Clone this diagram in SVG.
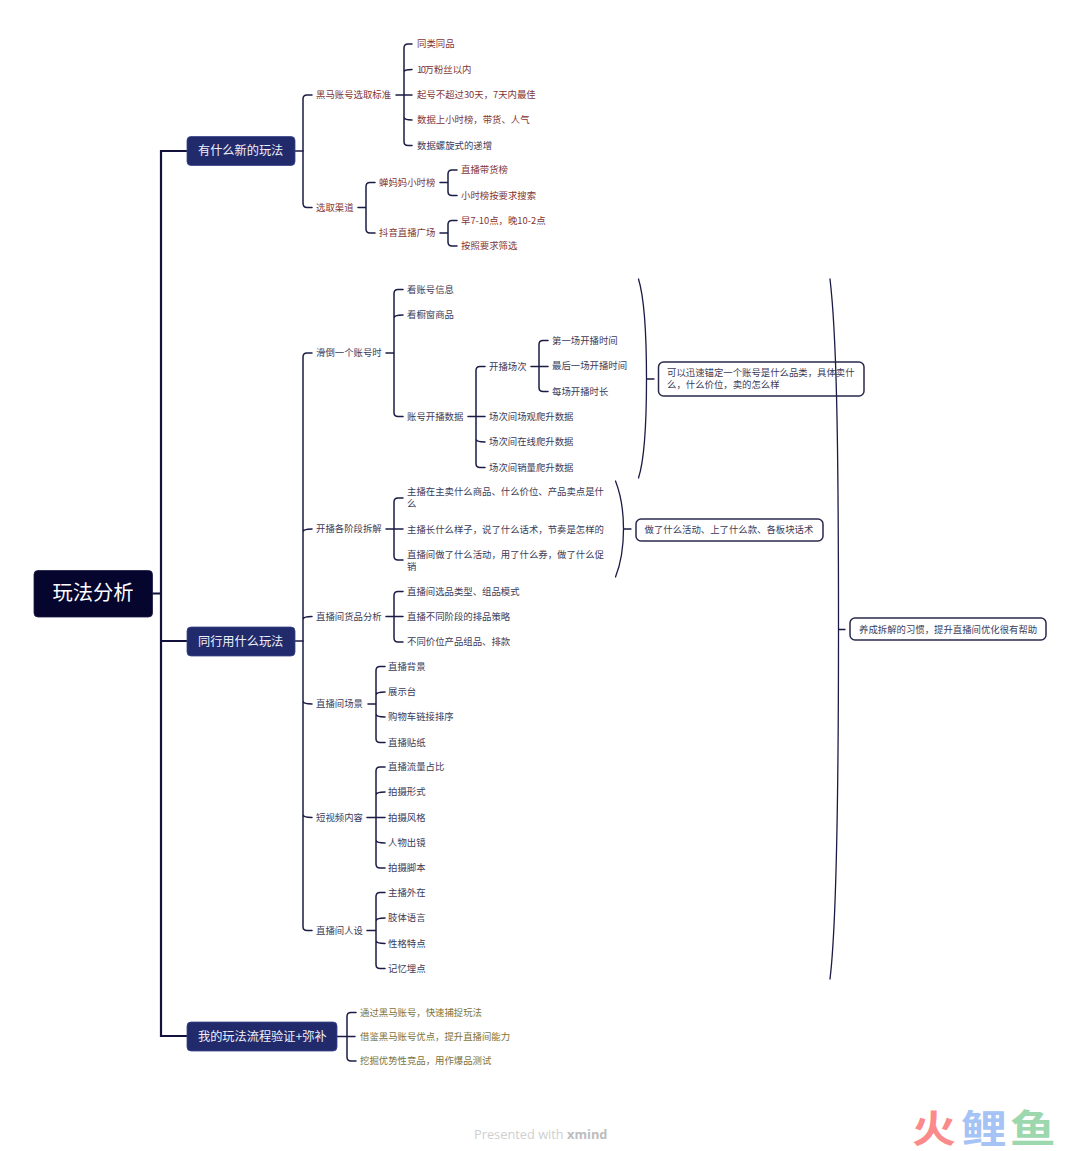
<svg xmlns="http://www.w3.org/2000/svg" width="1080" height="1151" viewBox="0 0 1080 1151">
<style>
text{font-family:"Noto Sans CJK SC","Noto Sans",sans-serif;font-size:9.4px;dominant-baseline:central;fill:#3b3b58;transform:translateY(-1px)}
.r{fill:#7f3535}
.o{fill:#7d7338}
.m{fill:#eef0fa;font-size:12.2px}
.t{fill:#fff;font-size:20.3px;transform:translateY(-2.5px)}
.c{fill:none;stroke:#1b1b45;stroke-width:1.5;stroke-linecap:round}
.c1{fill:none;stroke:#12123c;stroke-width:2.2}
.b{fill:none;stroke:#1b1b45;stroke-width:1.3;stroke-linecap:round}
.nb{fill:#fff;stroke:#2a2a4e;stroke-width:1.5}
.mb{fill:#212a6b;stroke:#3a4488;stroke-width:.8}
.w{font-family:"Liberation Sans","Noto Sans CJK SC",sans-serif;font-size:38px;font-weight:700;dominant-baseline:alphabetic;transform:none}
</style>
<rect width="1080" height="1151" fill="#fff"/>
<g id="connectors">
<path class="c1" d="M152 593.500H161M187 151H161V1036H187M161 641H187"/>
<path class="c" d="M295 151H303M295 641H303"/>
<path class="c" d="M312 95H307Q303 95 303 99V203Q303 207.500 307 207.500H312"/>
<path class="c" d="M396 95H412M412 44H408Q404 44 404 48V141.500Q404 145.500 408 145.500H412M404 72Q404 69.500 412 69.500M404 117Q404 120 412 120"/>
<path class="c" d="M358 207.500H366M375 182.500H370Q366 182.500 366 186.500V229Q366 233 370 233H375"/>
<path class="c" d="M440 182.500H448M457 170H452Q448 170 448 174V191.500Q448 195.500 452 195.500H457"/>
<path class="c" d="M440 233H448M457 220.500H452Q448 220.500 448 224.500V242Q448 246 452 246H457"/>
<path class="c" d="M312 353H307Q303 353 303 357V926.500Q303 930.500 307 930.500H312M303 532Q303 529 312 529M303 619.500Q303 616.500 312 616.500M303 701Q303 704 312 704M303 814.500Q303 817.500 312 817.500"/>
<path class="c" d="M386 353H394M403 289.500H398Q394 289.500 394 293.500V412.500Q394 416.500 398 416.500H403M394 318Q394 315 403 315"/>
<path class="c" d="M468 416.500H485M485 366.500H480Q476 366.500 476 370.500V463.500Q476 467.500 480 467.500H485M476 439Q476 442 485 442"/>
<path class="c" d="M531 366.500H548M548 340.500H543Q539 340.500 539 344.500V387.500Q539 391.500 543 391.500H548"/>
<path class="c" d="M386 529H403M403 498H398Q394 498 394 502V556Q394 560 398 560H403"/>
<path class="c" d="M386 616.500H403M403 591.500H398Q394 591.500 394 595.500V638Q394 642 398 642H403"/>
<path class="c" d="M368 704H376M385 666.500H380Q376 666.500 376 670.500V738.500Q376 742.500 380 742.500H385M376 695Q376 692 385 692M376 714Q376 717 385 717"/>
<path class="c" d="M367 817.500H385M385 767H380Q376 767 376 771V864Q376 868 380 868H385M376 795Q376 792 385 792M376 840Q376 843 385 843"/>
<path class="c" d="M367 930.500H376M385 892.500H380Q376 892.500 376 896.500V964.500Q376 968.500 380 968.500H385M376 921Q376 918 385 918M376 940.500Q376 943.500 385 943.500"/>
<path class="c" d="M337 1036.500H355M356 1012.500H351Q347 1012.500 347 1016.500V1057Q347 1061 351 1061H356"/>
<path class="b" d="M638.500 279C645 300 646.500 340 646.500 379C646.500 418 645 458 638.500 478M646.500 379H654"/>
<path class="b" d="M615.500 481C621 495 623.500 510 623.500 529C623.500 548 621 563 615.500 577M623.500 529H631"/>
</g>
<g id="root"><rect x="34" y="570.500" width="118.500" height="46.500" rx="4" fill="#05052e" stroke="#1b1b45" stroke-width=".8"/><text class="t" x="93" y="593.500" text-anchor="middle">玩法分析</text></g>
<g id="topic1"><rect class="mb" x="187" y="136.500" width="108" height="29" rx="4"/><text class="m" x="198" y="151">有什么新的玩法</text></g>
<g id="topic2"><rect class="mb" x="187" y="627" width="108" height="29" rx="4"/><text class="m" x="198" y="641.500">同行用什么玩法</text></g>
<g id="topic3"><rect class="mb" x="187" y="1022" width="150" height="29" rx="4"/><text class="m" x="198" y="1036.500">我的玩法流程验证+弥补</text></g>
<g id="n-a1"><text class="r" x="316" y="94.500">黑马账号选取标准</text></g>
<g id="n-a1-1"><text class="r" x="417" y="44">同类同品</text></g>
<g id="n-a1-2"><text class="r" x="417" y="69.500"><tspan letter-spacing="-1.400">10</tspan>万粉丝以内</text></g>
<g id="n-a1-3"><text class="r" x="417" y="95">起号不超过30天，7天内最佳</text></g>
<g id="n-a1-4"><text class="r" x="417" y="120">数据上小时榜，带货、人气</text></g>
<g id="n-a1-5"><text x="417" y="145.500">数据螺旋式的递增</text></g>
<g id="n-a2"><text class="r" x="316" y="207.500">选取渠道</text></g>
<g id="n-a2-1"><text class="r" x="379" y="182.500">蝉妈妈小时榜</text></g>
<g id="n-a2-1-1"><text class="r" x="461" y="170">直播带货榜</text></g>
<g id="n-a2-1-2"><text class="r" x="461" y="195.500">小时榜按要求搜索</text></g>
<g id="n-a2-2"><text class="r" x="379" y="233">抖音直播广场</text></g>
<g id="n-a2-2-1"><text class="r" x="461" y="220.500">早7-10点，晚10-2点</text></g>
<g id="n-a2-2-2"><text class="r" x="461" y="246">按照要求筛选</text></g>
<g id="n-b1"><text x="316" y="353">滑倒一个账号时</text></g>
<g id="n-b1-1"><text x="407" y="289.500">看账号信息</text></g>
<g id="n-b1-2"><text x="407" y="315">看橱窗商品</text></g>
<g id="n-b1-3"><text x="407" y="416.500">账号开播数据</text></g>
<g id="n-b1-3-1"><text x="489" y="366.500">开播场次</text></g>
<g id="n-b1-3-1-1"><text x="552" y="340.500">第一场开播时间</text></g>
<g id="n-b1-3-1-2"><text x="552" y="366">最后一场开播时间</text></g>
<g id="n-b1-3-1-3"><text x="552" y="391.500">每场开播时长</text></g>
<g id="n-b1-3-2"><text x="489" y="416.500">场次间场观爬升数据</text></g>
<g id="n-b1-3-3"><text x="489" y="442">场次间在线爬升数据</text></g>
<g id="n-b1-3-4"><text x="489" y="467.500">场次间销量爬升数据</text></g>
<g id="n-b2"><text x="316" y="529">开播各阶段拆解</text></g>
<g id="n-b2-1"><text x="407" y="492">主播在主卖什么商品、什么价位、产品卖点是什</text><text x="407" y="504">么</text></g>
<g id="n-b2-2"><text x="407" y="529.500">主播长什么样子，说了什么话术，节奏是怎样的</text></g>
<g id="n-b2-3"><text x="407" y="555">直播间做了什么活动，用了什么券，做了什么促</text><text x="407" y="567">销</text></g>
<g id="n-b3"><text x="316" y="616.500">直播间货品分析</text></g>
<g id="n-b3-1"><text x="407" y="591.500">直播间选品类型、组品模式</text></g>
<g id="n-b3-2"><text x="407" y="616.500">直播不同阶段的排品策略</text></g>
<g id="n-b3-3"><text x="407" y="642">不同价位产品组品、排款</text></g>
<g id="n-b4"><text x="316" y="704">直播间场景</text></g>
<g id="n-b4-1"><text x="388" y="666.500">直播背景</text></g>
<g id="n-b4-2"><text x="388" y="692">展示台</text></g>
<g id="n-b4-3"><text x="388" y="717">购物车链接排序</text></g>
<g id="n-b4-4"><text x="388" y="742.500">直播贴纸</text></g>
<g id="n-b5"><text x="316" y="817.500">短视频内容</text></g>
<g id="n-b5-1"><text x="388" y="767">直播流量占比</text></g>
<g id="n-b5-2"><text x="388" y="792">拍摄形式</text></g>
<g id="n-b5-3"><text x="388" y="817.500">拍摄风格</text></g>
<g id="n-b5-4"><text x="388" y="843">人物出镜</text></g>
<g id="n-b5-5"><text x="388" y="868">拍摄脚本</text></g>
<g id="n-b6"><text x="316" y="930.500">直播间人设</text></g>
<g id="n-b6-1"><text x="388" y="892.500">主播外在</text></g>
<g id="n-b6-2"><text x="388" y="918">肢体语言</text></g>
<g id="n-b6-3"><text x="388" y="943.500">性格特点</text></g>
<g id="n-b6-4"><text x="388" y="968.500">记忆埋点</text></g>
<g id="n-c1"><text class="o" x="360" y="1012.500">通过黑马账号，快速捕捉玩法</text></g>
<g id="n-c2"><text class="o" x="360" y="1036.500">借鉴黑马账号优点，提升直播间能力</text></g>
<g id="n-c3"><text class="o" x="360" y="1061">挖掘优势性竞品，用作爆品测试</text></g>
<g id="note1"><rect class="nb" x="658.500" y="362" width="205.500" height="34" rx="5"/><text x="667" y="372.500">可以迅速锚定一个账号是什么品类，具体卖什</text><text x="667" y="384.500">么，什么价位，卖的怎么样</text></g>
<g id="note2"><rect class="nb" x="636" y="519" width="187" height="22" rx="5"/><text x="644.500" y="529.500">做了什么活动、上了什么款、各板块话术</text></g>
<g id="note3"><rect class="nb" x="850" y="618" width="196" height="22" rx="5"/><text x="859" y="629.500">养成拆解的习惯，提升直播间优化很有帮助</text></g>
<g id="summary-brace"><path class="b" d="M830 279C836 330 838.500 420 838.500 629.500C838.500 830 836 930 830 979M838.500 629.500H845"/></g>
<g id="footer"><text x="474" y="1135" style="font-family:'Open Sans',sans-serif;font-size:12.800px;fill:#cfcfcf">Presented with <tspan style="font-weight:700;fill:#bdbdbd">xmind</tspan></text></g>
<g id="watermark">
<g transform="translate(912 1142) scale(1.15 1)"><text class="w" style="fill:#fb8b8b">火</text></g>
<g transform="translate(961 1142) scale(1.2 1)"><text class="w" style="fill:#a5c3f4">鲤</text></g>
<g transform="translate(1010 1142) scale(1.2 1)"><text class="w" style="fill:#9cd7ae">鱼</text></g>
</g>
</svg>
